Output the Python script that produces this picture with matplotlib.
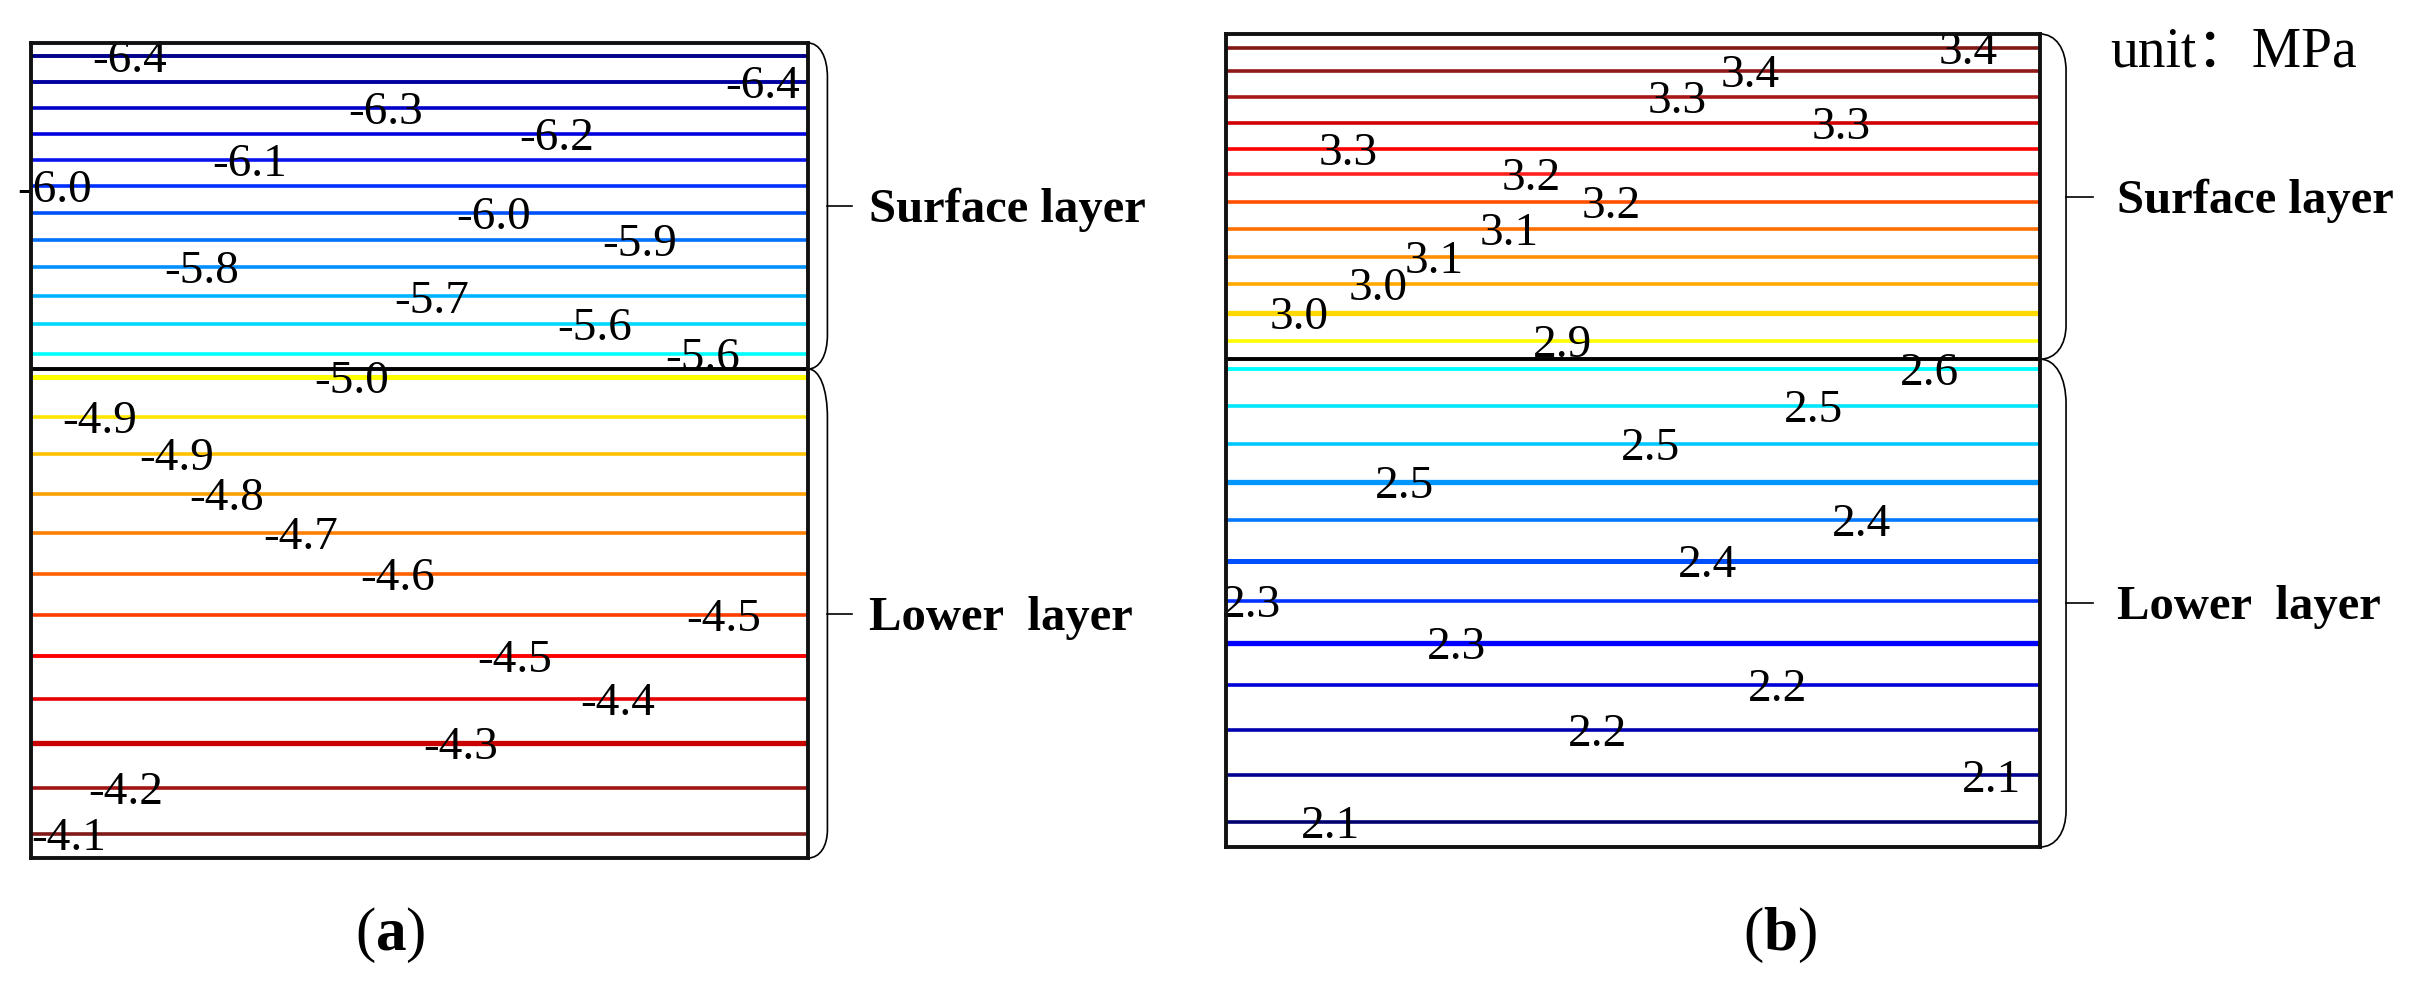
import matplotlib
matplotlib.use("Agg")
import matplotlib.pyplot as plt
from matplotlib.path import Path
from matplotlib.patches import PathPatch

plt.rcParams['mathtext.fontset'] = 'custom'
plt.rcParams['mathtext.rm'] = 'Liberation Serif'
plt.rcParams['mathtext.bf'] = 'Liberation Serif:bold'

# ---------------- data ----------------
# depth (0 = top surface, 10 = bottom); surface layer spans 0-4, lower layer 4-10
layer_boundary = 4.0
depth_bottom = 10.0

# panel (a) contour lines (top -> bottom)
a_depth = [0.16, 0.48, 0.80, 1.12, 1.43, 1.75, 2.08, 2.42, 2.75, 3.11, 3.45, 3.81,
           4.10, 4.59, 5.04, 5.53, 6.01, 6.52, 7.02, 7.52, 8.05, 8.59, 9.14, 9.71]
a_values = [-6.4, -6.4, -6.3, -6.2, -6.1, -6.0, -6.0, -5.9, -5.8, -5.7, -5.6, -5.6,
            -5.0, -4.9, -4.9, -4.8, -4.7, -4.6, -4.5, -4.5, -4.4, -4.3, -4.2, -4.1]
a_label_x = [0.127, 0.941, 0.456, 0.676, 0.282, 0.030, 0.595, 0.784, 0.220, 0.516, 0.725, 0.864,
             0.413, 0.089, 0.187, 0.252, 0.347, 0.472, 0.892, 0.623, 0.755, 0.553, 0.122, 0.048]

# panel (b) contour lines (top -> bottom)
b_depth = [0.17, 0.46, 0.78, 1.09, 1.41, 1.72, 2.07, 2.40, 2.74, 3.08, 3.43, 3.78,
           4.12, 4.58, 5.04, 5.51, 5.98, 6.48, 6.97, 7.49, 8.01, 8.56, 9.12, 9.69]
b_values = [3.4, 3.4, 3.3, 3.3, 3.3, 3.2, 3.2, 3.1, 3.1, 3.0, 3.0, 2.9,
            2.6, 2.5, 2.5, 2.5, 2.4, 2.4, 2.3, 2.3, 2.2, 2.2, 2.1, 2.1]
b_label_x = [0.912, 0.644, 0.554, 0.756, 0.150, 0.375, 0.473, 0.348, 0.256, 0.187, 0.090, 0.413,
             0.864, 0.722, 0.521, 0.219, 0.781, 0.592, 0.031, 0.283, 0.677, 0.456, 0.940, 0.128]

layer_names = ["Surface layer", "Lower  layer"]
unit_text = "unit：MPa"
panel_tags = ["a", "b"]

# ---------------- styles ----------------
a_colors = ['#00008B', '#0000A0', '#0000C8', '#0000E0', '#0A14F0', '#0030FF',
            '#0050FF', '#0070FF', '#0090FF', '#00B4FF', '#00D8FF', '#00FFFF',
            '#FFFF00', '#FFE600', '#FFC000', '#FFA000', '#FF8000', '#FF6000',
            '#FF3C00', '#FF0000', '#E60000', '#C80000', '#A01414', '#801818']
a_lw = [2.8, 2.8, 2.6, 2.6, 2.6, 2.6, 2.6, 2.6, 2.6, 2.6, 2.6, 2.6,
        3.6, 2.6, 2.6, 2.6, 2.6, 2.6, 2.6, 2.8, 2.6, 3.8, 2.6, 2.6]
b_colors = ['#801818', '#901818', '#A81818', '#D00000', '#FF0000', '#FF2020',
            '#FF5000', '#FF7000', '#FF9000', '#FFA800', '#FFD800', '#FFFF00',
            '#00FFFF', '#00E6FF', '#00C8FF', '#0096FF', '#0078FF', '#0050FF',
            '#0030FF', '#0000FF', '#0000D8', '#0000B0', '#000090', '#000070']
b_lw = [2.6, 2.6, 2.6, 2.6, 2.6, 2.6, 2.6, 2.6, 2.6, 2.6, 3.8, 2.6,
        2.8, 2.6, 2.6, 3.8, 2.6, 3.6, 2.6, 3.8, 2.6, 2.6, 2.6, 2.6]

LABEL_FS = 34
LAYER_FS = 35
SERIF = 'Liberation Serif'

fig = plt.figure(figsize=(24.22, 9.86), dpi=100)
ax_a = fig.add_axes([31 / 2422, 1 - 858 / 986, 777 / 2422, 815 / 986])
ax_b = fig.add_axes([1226 / 2422, 1 - 847 / 986, 814 / 2422, 813 / 986])


def draw_panel(ax, depth, values, label_x, colors, lws):
    ax.set_xlim(0, 1)
    ax.set_ylim(depth_bottom, 0)
    ax.hlines(depth, 0, 1, colors=colors, linewidths=lws, zorder=2)
    ax.axhline(layer_boundary, color='black', lw=2.8, zorder=4)
    for d, v, x in zip(depth, values, label_x):
        ax.annotate(f"{v:.1f}", (x, d), xytext=(0, -0.34 * LABEL_FS),
                    textcoords='offset points', ha='center', va='baseline',
                    fontsize=LABEL_FS, family=SERIF, color='black', zorder=5,
                    annotation_clip=False)
    ax.set_xticks([])
    ax.set_yticks([])
    for s in ax.spines.values():
        s.set_linewidth(2.8)
        s.set_color('#111111')
        s.set_zorder(6)


def brace(ax, y0, y1, bulge, c_top, c_bot, tick, text, text_gap):
    trans = ax.get_yaxis_transform()
    verts = [(1.0, y0), (1.0 + 0.6 * bulge, y0), (1.0 + bulge, y0 + 0.4 * c_top), (1.0 + bulge, y0 + c_top),
             (1.0 + bulge, y1 - c_bot),
             (1.0 + bulge, y1 - 0.4 * c_bot), (1.0 + 0.6 * bulge, y1), (1.0, y1)]
    codes = [Path.MOVETO, Path.CURVE4, Path.CURVE4, Path.CURVE4, Path.LINETO,
             Path.CURVE4, Path.CURVE4, Path.CURVE4]
    ax.add_patch(PathPatch(Path(verts, codes), transform=trans, fill=False,
                           lw=1.2, edgecolor='black', clip_on=False))
    ym = 0.5 * (y0 + y1)
    ax.plot([1.0 + bulge, 1.0 + bulge + tick], [ym, ym], transform=trans,
            color='black', lw=1.2, clip_on=False)
    ax.annotate(text, (1.0 + bulge + tick + text_gap, ym), xycoords=trans,
                xytext=(0, -0.33 * LAYER_FS), textcoords='offset points',
                ha='left', va='baseline', fontsize=LAYER_FS, family=SERIF,
                fontweight='bold', annotation_clip=False)


draw_panel(ax_a, a_depth, a_values, a_label_x, a_colors, a_lw)
draw_panel(ax_b, b_depth, b_values, b_label_x, b_colors, b_lw)

brace(ax_a, 0, layer_boundary, 0.025, 0.42, 0.42, 0.031, layer_names[0], 0.023)
brace(ax_a, layer_boundary, depth_bottom, 0.025, 0.6, 0.35, 0.031, layer_names[1], 0.023)
brace(ax_b, 0, layer_boundary, 0.032, 0.45, 0.42, 0.033, layer_names[0], 0.030)
brace(ax_b, layer_boundary, depth_bottom, 0.032, 0.55, 0.45, 0.033, layer_names[1], 0.030)

ax_b.text(1.086, 0.40, unit_text, transform=ax_b.get_yaxis_transform(),
          ha='left', va='baseline', fontsize=40,
          family=[SERIF, 'Noto Sans CJK SC'], clip_on=False)

fig.text(390 / 2422, 1 - 935 / 986, "(" + r"$\mathbf{" + panel_tags[0] + "}$" + ")",
         ha='center', va='center', fontsize=44, family=SERIF)
fig.text(1780 / 2422, 1 - 935 / 986, "(" + r"$\mathbf{" + panel_tags[1] + "}$" + ")",
         ha='center', va='center', fontsize=44, family=SERIF)

fig.savefig("out.png", dpi=100, facecolor='white')
